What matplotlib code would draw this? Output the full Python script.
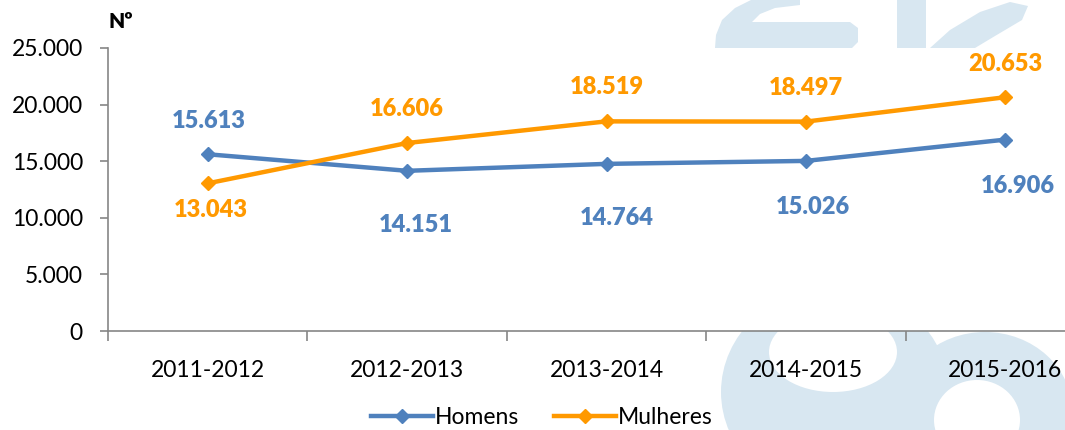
import matplotlib
matplotlib.use("Agg")
import matplotlib.pyplot as plt
from matplotlib.patches import Ellipse, Rectangle, Polygon
from matplotlib.ticker import FixedLocator, FuncFormatter

categories = ["2011-2012", "2012-2013", "2013-2014", "2014-2015", "2015-2016"]
homens = [15613, 14151, 14764, 15026, 16906]
mulheres = [13043, 16606, 18519, 18497, 20653]
y_ticks = [0, 5000, 10000, 15000, 20000, 25000]
series_names = ["Homens", "Mulheres"]

BLUE = "#4f81bd"
ORANGE = "#ff9900"
WM = "#d8e7f1"

plt.rcParams["font.family"] = ["Lato", "DejaVu Sans"]

W, H = 1065, 430
fig = plt.figure(figsize=(W / 100, H / 100), dpi=100)


def fx(x):
    return x / W


def fy(y):
    return 1 - y / H


# --- watermark (logo behind the chart) ---
def add(p):
    p.set_zorder(-5)
    p.set_transform(fig.transFigure)
    fig.add_artist(p)


def poly(pts, color=WM):
    add(Polygon([(fx(a), fy(b)) for a, b in pts], closed=True, color=color, lw=0))


# top: curved "e" piece
poly([(715, 48), (716, 35), (722, 20), (735, 8), (755, -2), (800, -5), (800, 5),
      (775, 8), (760, 14), (752, 22), (850, 22), (858, 28), (858, 42), (852, 48)])
# vertical bar
add(Rectangle((fx(897), fy(48)), fx(926) - fx(897), fy(0) - fy(48), color=WM, lw=0))
# leaf
poly([(930, 48), (950, 30), (980, 12), (1010, 2), (1028, 6), (1022, 20), (995, 36), (975, 48)])
# bottom rings
add(Ellipse((fx(835), fy(392)), 228 / W, 210 / H, color=WM, lw=0))
add(Ellipse((fx(833), fy(352)), 128 / W, 80 / H, color="white", lw=0))
add(Ellipse((fx(985), fy(412)), 175 / W, 160 / H, color=WM, lw=0))
add(Ellipse((fx(977), fy(420)), 86 / W, 80 / H, color="white", lw=0))

# --- axes ---
left, right, top, bottom = 108, 1105, 48, 331
ax = fig.add_axes([fx(left), fy(bottom), fx(right) - fx(left), fy(top) - fy(bottom)])
ax.set_facecolor("white")
x = list(range(len(categories)))

ax.plot(x, homens, color=BLUE, lw=3.2, marker="D", ms=7, label=series_names[0],
        solid_joinstyle="round", clip_on=False, zorder=3)
ax.plot(x, mulheres, color=ORANGE, lw=3.2, marker="D", ms=7, label=series_names[1],
        solid_joinstyle="round", clip_on=False, zorder=3)

ax.set_xlim(-0.5, len(categories) - 0.5)
ax.set_ylim(0, 25000)

fmt = FuncFormatter(lambda v, p: f"{int(v):,}".replace(",", "."))
ax.yaxis.set_major_locator(FixedLocator(y_ticks))
ax.yaxis.set_major_formatter(fmt)

ax.xaxis.set_major_locator(FixedLocator([i - 0.5 for i in range(len(categories) + 1)]))
ax.xaxis.set_major_formatter(FuncFormatter(lambda v, p: ""))
ax.xaxis.set_minor_locator(FixedLocator(x))
ax.set_xticklabels(categories, minor=True)

for s in ["top", "right"]:
    ax.spines[s].set_visible(False)
for s in ["left", "bottom"]:
    ax.spines[s].set_color("#868686")
    ax.spines[s].set_linewidth(1.2)

ax.tick_params(axis="y", which="major", length=6, width=1.2, color="#868686",
               labelsize=16.5, pad=12, labelcolor="black")
ax.tick_params(axis="x", which="major", length=7, width=1.2, color="#868686", direction="out")
ax.tick_params(axis="x", which="minor", length=0, labelsize=16.5, pad=21, labelcolor="black")

# data labels
h_off = [(1, 33), (9, -54), (10, -54), (7, -46), (12, -46)]
m_off = [(3, -27), (0, 34), (0, 34), (0, 34), (0, 33)]
for i, v in enumerate(homens):
    ax.annotate(f"{v:,}".replace(",", "."), (x[i], v), xytext=h_off[i], textcoords="offset pixels",
                ha="center", va="center", color=BLUE, fontsize=17, fontweight="heavy",
                annotation_clip=False)
for i, v in enumerate(mulheres):
    ax.annotate(f"{v:,}".replace(",", "."), (x[i], v), xytext=m_off[i], textcoords="offset pixels",
                ha="center", va="center", color=ORANGE, fontsize=17, fontweight="heavy",
                annotation_clip=False)

fig.text(fx(109), fy(22), "Nº", fontsize=15, fontweight="heavy", ha="left", va="center")

fig.legend(loc="center", bbox_to_anchor=(fx(542), fy(418)), ncol=2, frameon=False,
           fontsize=16.5, handlelength=2.7, columnspacing=1.5, handletextpad=0.1,
           borderaxespad=0, borderpad=0)

fig.savefig("out.png", dpi=100)
